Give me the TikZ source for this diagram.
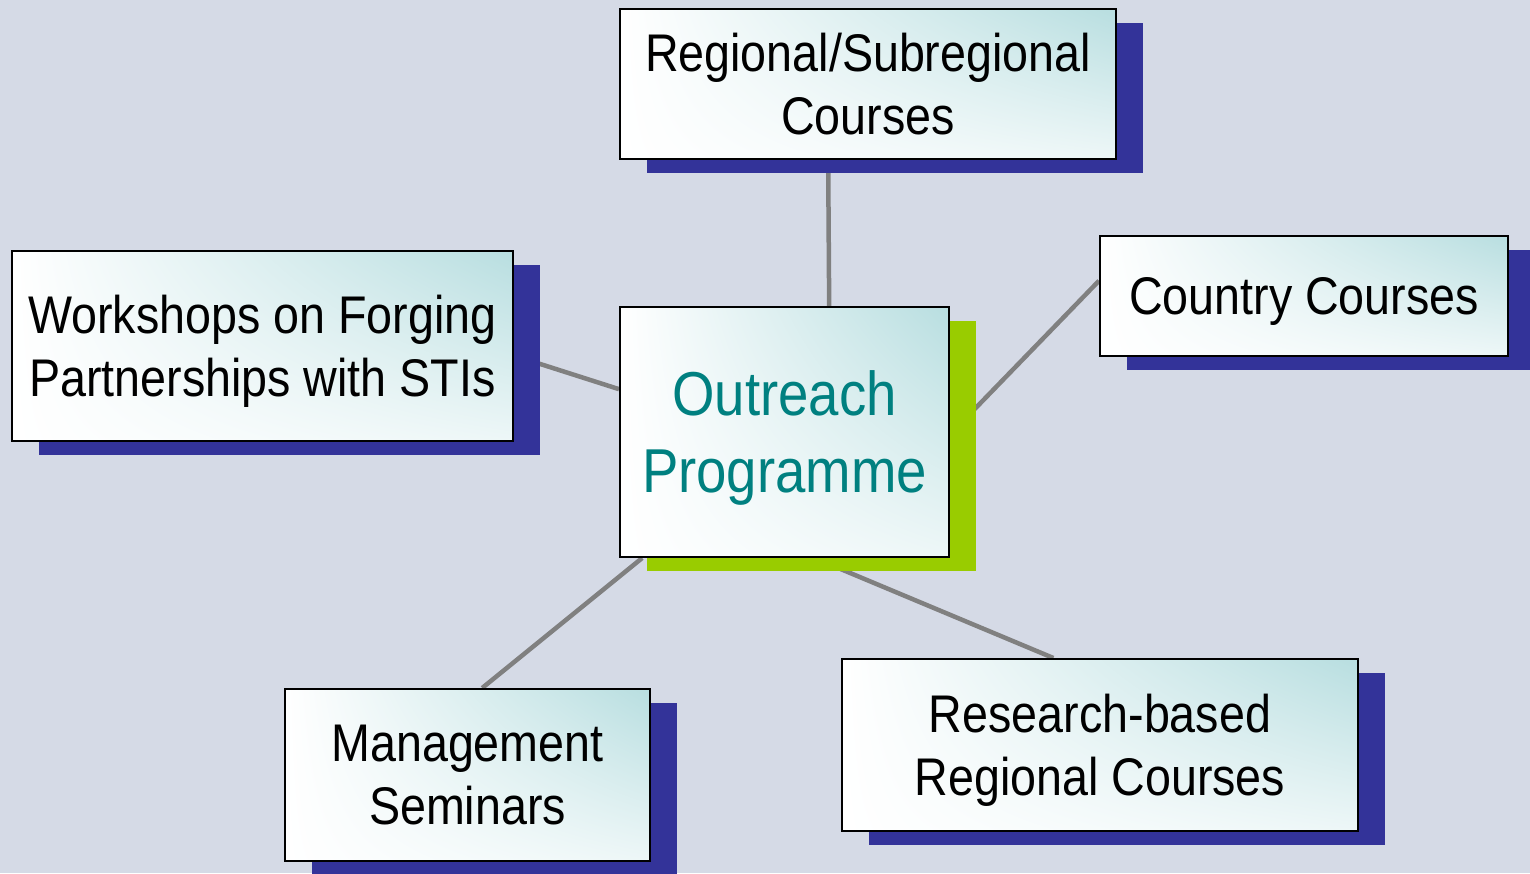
\documentclass[tikz,border=0pt]{standalone}
\usepackage{fontspec}
\setmainfont{Liberation Sans}[FakeStretch=0.88]
\usepackage{tikz}
\usetikzlibrary{shadows,shadings,backgrounds,calc}

\definecolor{bgcol}{RGB}{213,218,230}
\definecolor{shblue}{RGB}{51,51,153}
\definecolor{shgreen}{RGB}{153,204,0}
\definecolor{boxteal}{RGB}{184,222,224}
\definecolor{outteal}{RGB}{0,128,128}

\begin{document}
\begin{tikzpicture}[x=1pt,y=-1pt,line width=2pt]
\tikzstyle{every box}=[shape=rectangle,draw=black,inner sep=0pt,align=center,text depth=0pt,
  upper left=white,lower left=white,upper right=boxteal,lower right=boxteal!25!white,
  font=\fontsize{53}{63}\selectfont]
\tikzstyle{blue box}=[every box,drop shadow={shadow xshift=27pt,shadow yshift=-14pt,fill=shblue,opacity=1}]
\tikzstyle{green box}=[every box,drop shadow={shadow xshift=27pt,shadow yshift=-14pt,fill=shgreen,opacity=1},
  text=outteal,font=\fontsize{62}{77}\selectfont]
\tikzstyle{link}=[draw=gray,line width=4.5pt]
\useasboundingbox (0,0) rectangle (1530,873);
\node[green box,minimum width=329pt,minimum height=250pt] (O) at (784.5,432) {Outreach\\Programme};
\node[blue box,minimum width=496pt,minimum height=150pt] (R) at (868,84) {Regional/Subregional\\Courses};
\node[blue box,minimum width=408pt,minimum height=120pt] (C) at (1304,296) {Country Courses};
\node[blue box,minimum width=501pt,minimum height=190pt] (W) at (262.5,346) {Workshops on Forging\\Partnerships with STIs};
\node[blue box,minimum width=365pt,minimum height=172pt] (M) at (467.5,775) {Management\\Seminars};
\node[blue box,minimum width=516pt,minimum height=172pt] (B) at (1100,745) {Research-based\\Regional Courses};
\begin{scope}[on background layer]
\fill[bgcol] (0,0) rectangle (1530,873);
\path ($(R.south west)!0.42!(R.south east)$) edge[link] ($(O.north west)!0.635!(O.north east)$)
	($(W.north east)!0.55!(W.south east)$) edge[link] ($(O.north west)!0.33!(O.south west)$)
	($(O.north east)!0.51!(O.south east)$) edge[link] ($(C.north west)!0.375!(C.south west)$)
	($(M.north west)!0.54!(M.north east)$) edge[link] ($(O.south west)!0.07!(O.south east)$)
	($(O.south west)!0.59!(O.south east)$) edge[link] ($(B.north west)!0.41!(B.north east)$);
\end{scope}
\end{tikzpicture}
\end{document}
